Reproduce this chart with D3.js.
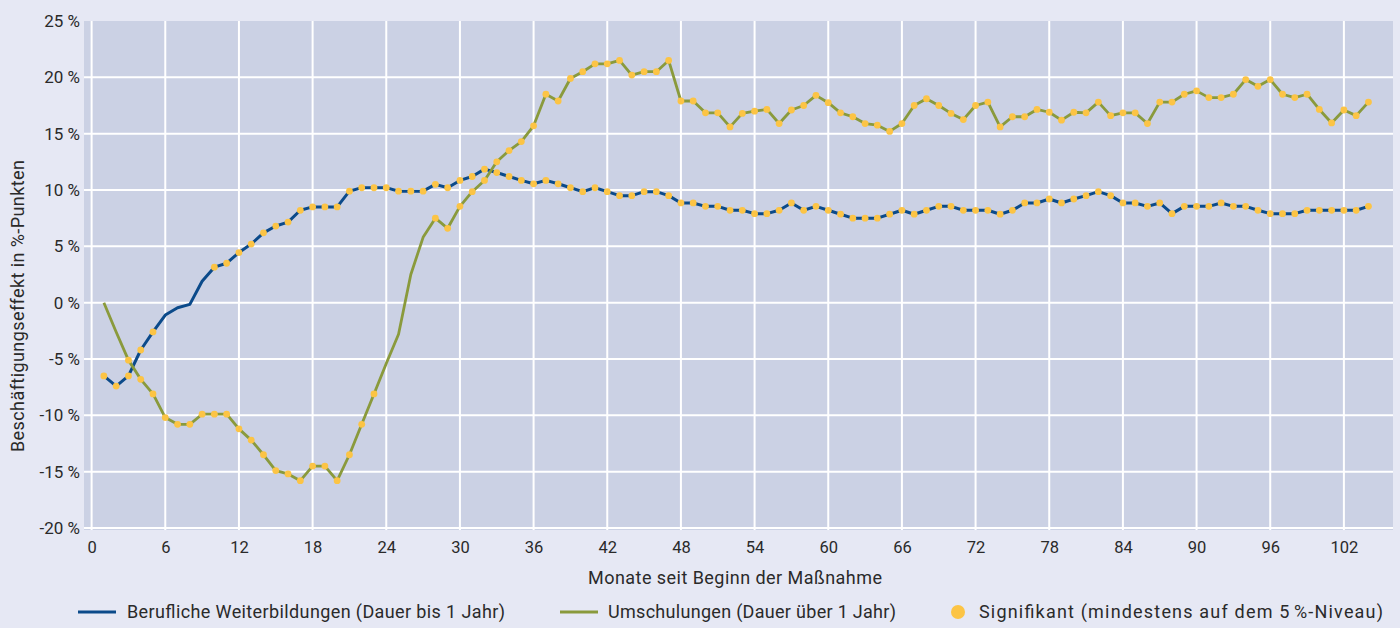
<!DOCTYPE html>
<html><head><meta charset="utf-8">
<script src="https://cdn.jsdelivr.net/npm/d3@7"></script>
<style>
html,body{margin:0;padding:0;background:#e6e8f4;}
svg{display:block;font-family:Roboto,"Noto Sans",sans-serif;}
</style></head>
<body><svg id="chart" width="1400" height="628"></svg>
<script>
const months = d3.range(1, 105);
const weiterbildung = [
 -6.5,-7.4,-6.5,-4.2,-2.6,-1.1,-0.45,-0.15,1.9,3.15,
 3.5,4.45,5.2,6.2,6.8,7.15,8.2,8.5,8.5,8.5,
 9.9,10.2,10.2,10.2,9.9,9.9,9.9,10.5,10.2,10.85,
 11.2,11.85,11.55,11.2,10.85,10.55,10.85,10.55,10.2,9.85,
 10.2,9.85,9.5,9.5,9.85,9.85,9.5,8.85,8.85,8.55,
 8.55,8.2,8.2,7.9,7.9,8.2,8.85,8.2,8.55,8.2,
 7.85,7.5,7.5,7.5,7.85,8.2,7.85,8.2,8.55,8.55,
 8.2,8.2,8.2,7.85,8.2,8.85,8.85,9.2,8.85,9.2,
 9.5,9.85,9.5,8.85,8.85,8.55,8.85,7.9,8.55,8.55,
 8.55,8.85,8.55,8.55,8.2,7.9,7.9,7.9,8.2,8.2,
 8.2,8.2,8.2,8.55];
const umschulung = [
 0,-2.6,-5.1,-6.8,-8.1,-10.2,-10.8,-10.8,-9.9,-9.9,
 -9.9,-11.2,-12.2,-13.5,-14.9,-15.2,-15.8,-14.5,-14.5,-15.8,
 -13.5,-10.8,-8.1,-5.4,-2.8,2.5,5.8,7.5,6.6,8.55,
 9.85,10.85,12.5,13.5,14.3,15.7,18.5,17.9,19.9,20.5,
 21.2,21.2,21.5,20.2,20.5,20.5,21.5,17.9,17.9,16.85,
 16.85,15.6,16.8,17.0,17.15,15.9,17.1,17.5,18.4,17.75,
 16.85,16.5,15.9,15.75,15.2,15.9,17.5,18.1,17.5,16.8,
 16.25,17.5,17.8,15.6,16.5,16.5,17.15,16.9,16.2,16.9,
 16.85,17.8,16.6,16.85,16.85,15.9,17.8,17.8,18.5,18.8,
 18.2,18.2,18.5,19.8,19.2,19.8,18.5,18.2,18.5,17.15,
 15.95,17.1,16.6,17.8];
// months where the effect is NOT significant
const nichtSigWeiter = [6,7,8,9];
const nichtSigUmsch = [1,2,24,25,26,27];
const xTicks = d3.range(0, 103, 6);
const yTicks = [-20,-15,-10,-5,0,5,10,15,20,25];
const seriesNames = ["Berufliche Weiterbildungen (Dauer bis 1 Jahr)", "Umschulungen (Dauer über 1 Jahr)"];
const sigName = "Signifikant (mindestens auf dem 5\u202F%-Niveau)";
const xTitle = "Monate seit Beginn der Maßnahme";
const yTitle = "Beschäftigungseffekt in %-Punkten";

const C = {bg:"#e6e8f4", plot:"#cbd1e4", blue:"#0b4a8a", green:"#8a9a3c", dot:"#fcc445", text:"#2a2a2a"};

const svg = d3.select("#chart");
svg.append("rect").attr("width",1400).attr("height",628).attr("fill",C.bg);

const L=84, R=1393, T=21, B=528;
const x = d3.scaleLinear().domain([-0.62,106]).range([L,R]);
const y = d3.scaleLinear().domain([-20,25]).range([B,T]);

svg.append("rect").attr("x",L).attr("y",T).attr("width",R-L).attr("height",B-T+2).attr("fill",C.plot);

// grid
svg.append("g").selectAll("line").data(xTicks).join("line")
  .attr("x1",d=>x(d)).attr("x2",d=>x(d)).attr("y1",T).attr("y2",B+2)
  .attr("stroke","#fff").attr("stroke-width",2);
svg.append("g").selectAll("line").data(yTicks.filter(d=>d<25)).join("line")
  .attr("x1",L).attr("x2",R).attr("y1",d=>y(d)).attr("y2",d=>y(d))
  .attr("stroke","#fff").attr("stroke-width",2);

// axes via d3 axis
const xAxis = svg.append("g").attr("transform",`translate(0,${B})`)
  .call(d3.axisBottom(x).tickValues(xTicks).tickSize(0).tickPadding(13).tickFormat(d3.format("d")));
xAxis.select(".domain").remove();
xAxis.selectAll("text").attr("font-size",16.5).attr("fill",C.text).attr("font-family","Roboto, sans-serif");

const yAxis = svg.append("g").attr("transform",`translate(${L},0)`)
  .call(d3.axisLeft(y).tickValues(yTicks).tickSize(0).tickPadding(4).tickFormat(d=>(d<0?"-"+Math.abs(d):d)+"\u00A0%"));
yAxis.select(".domain").remove();
yAxis.selectAll("text").attr("font-size",17).attr("fill",C.text).attr("font-family","Roboto, sans-serif");

svg.append("text").attr("x",588).attr("y",584)
  .attr("font-size",18).attr("fill",C.text).attr("textLength",294).attr("lengthAdjust","spacing").text(xTitle);
svg.append("text").attr("transform","translate(24,452) rotate(-90)")
  .attr("font-size",18).attr("fill",C.text).attr("textLength",292).attr("lengthAdjust","spacing").text(yTitle);

const data1 = months.map((m,i)=>({m, v:weiterbildung[i], sig:!nichtSigWeiter.includes(m)}));
const data2 = months.map((m,i)=>({m, v:umschulung[i], sig:!nichtSigUmsch.includes(m)}));
const line = d3.line().x(d=>x(d.m)).y(d=>y(d.v));

svg.append("path").datum(data1).attr("d",line).attr("fill","none").attr("stroke",C.blue).attr("stroke-width",3).attr("stroke-linejoin","round");
svg.append("path").datum(data2).attr("d",line).attr("fill","none").attr("stroke",C.green).attr("stroke-width",2.8).attr("stroke-linejoin","round");

[data1,data2].forEach(ds=>{
  svg.append("g").selectAll("circle").data(ds.filter(d=>d.sig)).join("circle")
    .attr("cx",d=>x(d.m)).attr("cy",d=>y(d.v)).attr("r",3.4).attr("fill",C.dot);
});

// legend
const lg = svg.append("g").attr("font-size",18).attr("fill",C.text);
const ly = 612;
lg.append("line").attr("x1",78).attr("x2",116).attr("y1",ly).attr("y2",ly).attr("stroke",C.blue).attr("stroke-width",3);
lg.append("text").attr("x",127).attr("y",ly+6).attr("textLength",378).attr("lengthAdjust","spacing").text(seriesNames[0]);
lg.append("line").attr("x1",560).attr("x2",598).attr("y1",ly).attr("y2",ly).attr("stroke",C.green).attr("stroke-width",3);
lg.append("text").attr("x",608).attr("y",ly+6).attr("textLength",288).attr("lengthAdjust","spacing").text(seriesNames[1]);
lg.append("circle").attr("cx",958).attr("cy",ly).attr("r",7).attr("fill",C.dot);
lg.append("text").attr("x",979).attr("y",ly+6).attr("textLength",404).attr("lengthAdjust","spacing").text(sigName);
</script></body></html>
